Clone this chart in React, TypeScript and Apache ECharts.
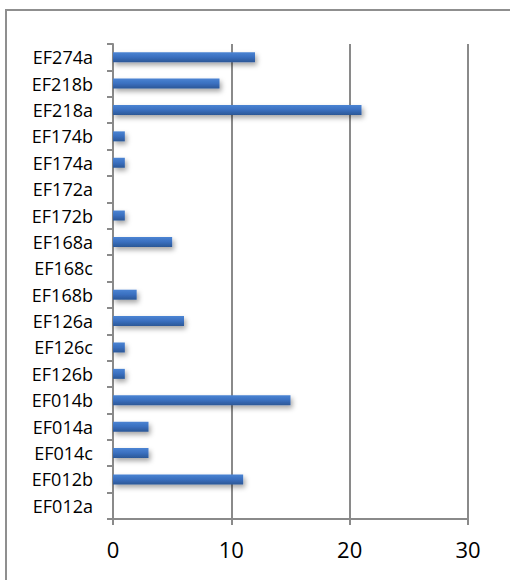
import React, { useEffect, useRef } from "react";
import * as echarts from "echarts";

const categories = [
  "EF274a", "EF218b", "EF218a", "EF174b", "EF174a", "EF172a", "EF172b", "EF168a", "EF168c",
  "EF168b", "EF126a", "EF126c", "EF126b", "EF014b", "EF014a", "EF014c", "EF012b", "EF012a",
];
const values = [12, 9, 21, 1, 1, 0, 1, 5, 0, 2, 6, 1, 1, 15, 3, 3, 11, 0];
const valueTicks = [0, 10, 20, 30];

export default function App() {
  const ref = useRef<HTMLDivElement>(null);
  useEffect(() => {
    const chart = echarts.init(ref.current!, null, { renderer: "svg" });
    chart.setOption({
      animation: false,
      backgroundColor: "#ffffff",
      graphic: [
        {
          type: "rect",
          shape: { x: 6, y: 10, width: 530, height: 600 },
          style: { fill: "none", stroke: "#8f8f8f", lineWidth: 2 },
          silent: true,
        },
      ],
      grid: { left: 113, right: 42, top: 44, bottom: 61, containLabel: false },
      xAxis: {
        type: "value",
        min: valueTicks[0],
        max: valueTicks[valueTicks.length - 1],
        interval: 10,
        axisLine: { show: true, lineStyle: { color: "#8a8a8a", width: 2 } },
        axisTick: { show: true, length: 6, lineStyle: { color: "#8a8a8a", width: 2 } },
        splitLine: { show: true, lineStyle: { color: "#8a8a8a", width: 2 } },
        axisLabel: { color: "#000", fontFamily: "Open Sans", fontSize: 22, margin: 19 },
      },
      yAxis: {
        type: "category",
        data: categories,
        inverse: true,
        axisLine: { show: true, lineStyle: { color: "#8a8a8a", width: 2 } },
        axisTick: { show: true, length: 6, lineStyle: { color: "#8a8a8a", width: 2 } },
        axisLabel: { color: "#000", fontFamily: "Open Sans", fontSize: 18, margin: 20 },
      },
      series: [
        {
          type: "bar",
          data: values,
          barWidth: 10,
          itemStyle: {
            color: new echarts.graphic.LinearGradient(0, 0, 0, 1, [
              { offset: 0, color: "#4b84d3" },
              { offset: 0.5, color: "#3a6fbf" },
              { offset: 1, color: "#2b5796" },
            ]),
            shadowColor: "rgba(0,0,0,0.35)",
            shadowBlur: 5,
            shadowOffsetX: 2,
            shadowOffsetY: 3,
          },
        },
      ],
    });
    return () => chart.dispose();
  }, []);
  return (
    <div
      ref={ref}
      style={{ position: "absolute", left: 0, top: 0, width: 510, height: 580 }}
    />
  );
}
